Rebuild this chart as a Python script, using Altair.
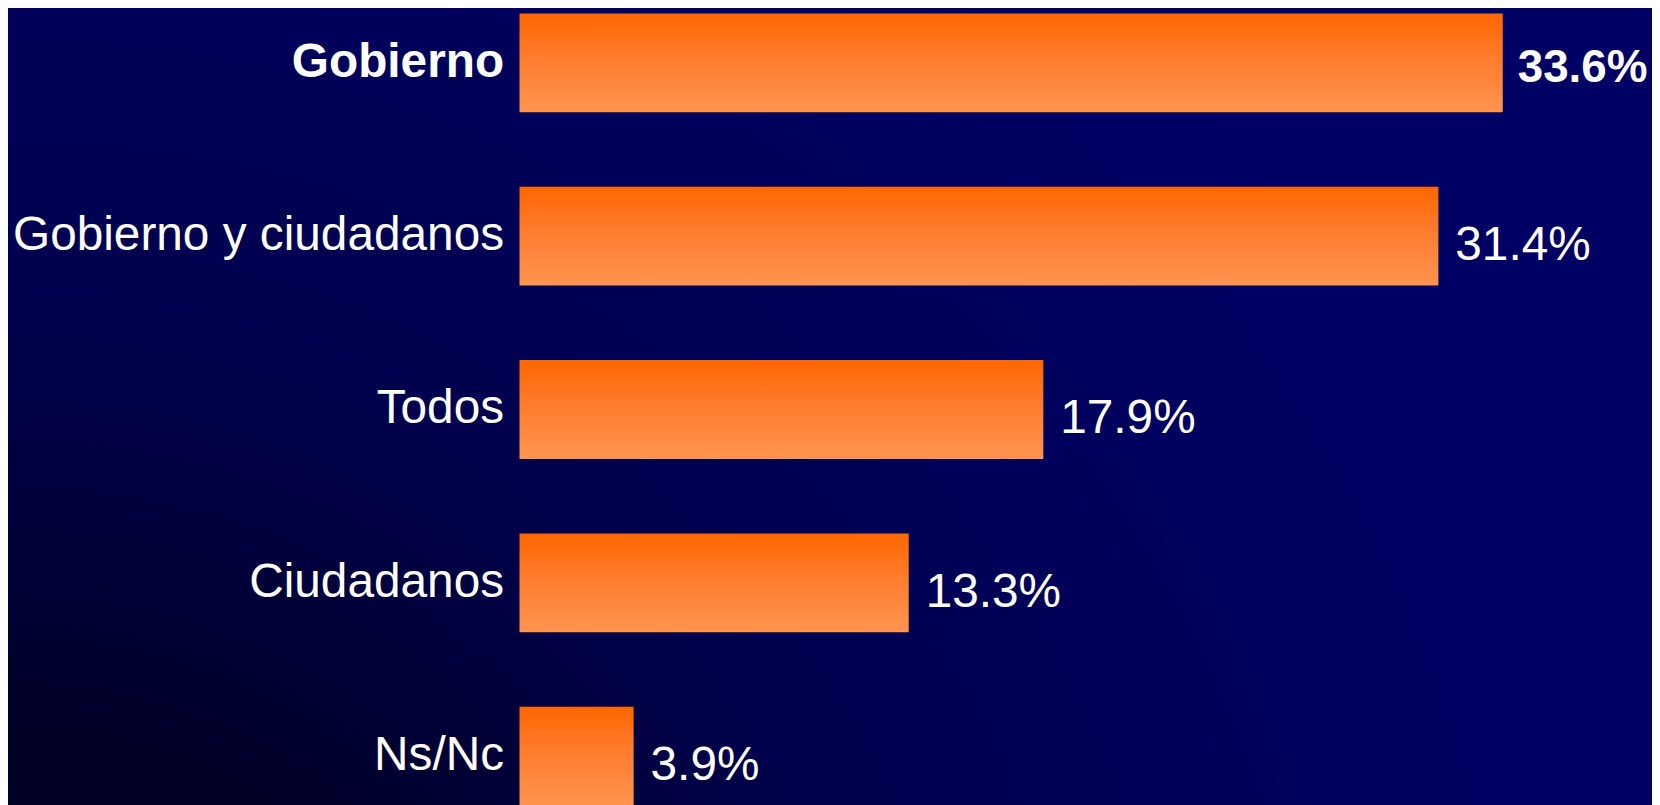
import altair as alt
import pandas as pd

# Data
categories = ["Gobierno", "Gobierno y ciudadanos", "Todos", "Ciudadanos", "Ns/Nc"]
values = [33.6, 31.4, 17.9, 13.3, 3.9]
value_labels = ["33.6%", "31.4%", "17.9%", "13.3%", "3.9%"]
highlight = [True, False, False, False, False]

df = pd.DataFrame({
    "categoria": categories,
    "valor": values,
    "etiqueta": value_labels,
    "destacado": highlight,
})

LEFT = 514
W = 1138
H = 803
FONT = "Liberation Sans"
FS = 48

bar_fill = alt.LinearGradient(
    gradient="linear",
    stops=[
        alt.GradientStop(color="#FF6600", offset=0),
        alt.GradientStop(color="#FF7C2E", offset=0.45),
        alt.GradientStop(color="#FF9450", offset=1),
    ],
    x1=0, x2=0, y1=0, y2=1,
)

bg_fill = alt.RadialGradient(
    gradient="radial",
    stops=[
        alt.GradientStop(color="#00000E", offset=0),
        alt.GradientStop(color="#000026", offset=0.3),
        alt.GradientStop(color="#00004C", offset=0.55),
        alt.GradientStop(color="#00005C", offset=0.8),
        alt.GradientStop(color="#000064", offset=1),
    ],
    x1=0, y1=1, r1=0, x2=0, y2=1, r2=1,
)

y_enc = alt.Y(
    "categoria:N",
    sort=categories,
    scale=alt.Scale(paddingInner=0.43, paddingOuter=0.02),
    axis=alt.Axis(
        title=None,
        ticks=False,
        domain=False,
        grid=False,
        zindex=2,
        labelFont=FONT,
        labelFontSize=FS,
        labelColor="white",
        labelPadding=16,
        labelLimit=0,
        labelFontWeight={
            "condition": {"test": "datum.value == 'Gobierno'", "value": "bold"},
            "value": "normal",
        },
    ),
)
x_enc = alt.X("valor:Q", scale=alt.Scale(domain=[0, 38.7]), axis=None)

bg = alt.Chart(pd.DataFrame({"k": [0]})).mark_rect(fill=bg_fill).encode(
    x=alt.value(-LEFT), x2=alt.value(W), y=alt.value(0), y2=alt.value(H)
)

base = alt.Chart(df)

bars = base.mark_bar(fill=bar_fill).encode(x=x_enc, y=y_enc)

text_normal = base.transform_filter("!datum.destacado").mark_text(
    align="left", baseline="middle", dx=17, dy=10,
    font=FONT, fontSize=FS, color="white",
).encode(x=x_enc, y=y_enc, text="etiqueta:N")

text_bold = base.transform_filter("datum.destacado").mark_text(
    align="left", baseline="middle", dx=15, dy=5,
    font=FONT, fontSize=46, color="white", fontWeight="bold",
).encode(x=x_enc, y=y_enc, text="etiqueta:N")

chart = alt.layer(bg, bars, text_normal, text_bold).properties(
    width=W,
    height=H,
    autosize=alt.AutoSizeParams(type="none"),
    padding={"left": LEFT, "top": 0, "right": 0, "bottom": 0},
    background="#00005E",
).configure_view(stroke=None)

chart.save("out.html", embed_options={"renderer": "svg", "actions": False})
